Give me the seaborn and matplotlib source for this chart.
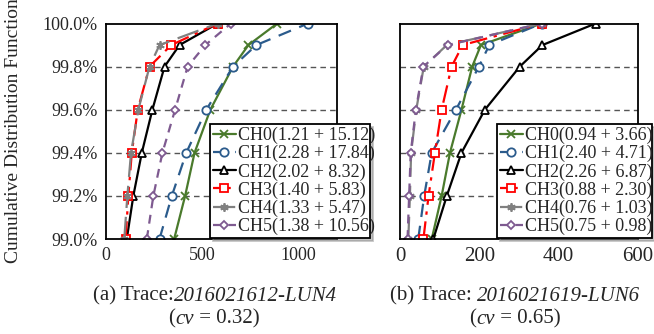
import matplotlib
matplotlib.use("Agg")
import matplotlib.pyplot as plt
import seaborn as sns
import pandas as pd
from matplotlib.lines import Line2D
from matplotlib.offsetbox import TextArea, HPacker, AnchoredOffsetbox

sns.set_theme(style="white")
plt.rcParams["font.family"] = ["Liberation Serif", "DejaVu Serif"]
plt.rcParams["mathtext.fontset"] = "stix"

# CDF levels (percent)
levels = [99.0, 99.2, 99.4, 99.6, 99.8, 99.9, 100.0]

channels = ["CH0", "CH1", "CH2", "CH3", "CH4", "CH5"]

# (a) Trace 2016021612-LUN4 latency values (us)
a_ch0 = [354, 411, 460, 542, 660, 740, 889]
a_ch1 = [278, 342, 417, 521, 660, 781, 1049]
a_ch2 = [108, 142, 186, 241, 304, 382, 580]
a_ch3 = [102, 116, 134, 165, 226, 339, 580]
a_ch4 = [95, 111, 130, 168, 226, 278, 580]
a_ch5 = [212, 246, 293, 359, 424, 516, 649]
a_labels = ["CH0(1.21 + 15.12)", "CH1(2.28 + 17.84)", "CH2(2.02 + 8.32)",
            "CH3(1.40 + 5.83)", "CH4(1.33 + 5.47)", "CH5(1.38 + 10.56)"]

# (b) Trace 2016021619-LUN6
b_ch0 = [80, 105, 126, 155, 182, 204, 357]
b_ch1 = [46, 61, 80, 141, 199, 225, 357]
b_ch2 = [84, 118, 155, 214, 302, 359, 493]
b_ch3 = [59, 72, 88, 105, 130, 158, 357]
b_ch4 = [21, 25, 28, 41, 60, 118, 357]
b_ch5 = [19, 23, 27, 40, 59, 120, 357]
b_labels = ["CH0(0.94 + 3.66)", "CH1(2.40 + 4.71)", "CH2(2.26 + 6.87)",
            "CH3(0.88 + 2.30)", "CH4(0.76 + 1.03)", "CH5(0.75 + 0.98)"]

styles = {
    "CH0": dict(color="#4A7A2C", marker="x", linestyle="-", mfc="none"),
    "CH1": dict(color="#2B5B8C", marker="o", linestyle=(0, (6, 4)), mfc="white"),
    "CH2": dict(color="black", marker="^", linestyle="-", mfc="white"),
    "CH3": dict(color="#FF0000", marker="s", linestyle=(0, (8, 3, 1.5, 3)), mfc="white"),
    "CH4": dict(color="#808080", marker=(6, 2, 0), linestyle=(0, (10, 4)), mfc="none"),
    "CH5": dict(color="#7E5A90", marker="D", linestyle=(0, (4, 3)), mfc="white"),
}

fig = plt.figure(figsize=(6.54, 3.34), dpi=100)
W, H = 654, 334
def axes_px(x0, x1, y0, y1):
    return fig.add_axes([x0 / W, 1 - y1 / H, (x1 - x0) / W, (y1 - y0) / H])

ax1 = axes_px(106, 337, 23.5, 239)
ax2 = axes_px(400, 638, 23.5, 239)

def draw(ax, series, labels, xmax, xticks, tickfs, legend_px):
    handles = []
    for ch, vals, lab in zip(channels, series, labels):
        st = styles[ch]
        df = pd.DataFrame({"x": vals, "y": levels})
        ms = 6 if st["marker"] != "D" else 4.5
        sns.lineplot(data=df, x="x", y="y", ax=ax, sort=False, estimator=None,
                     color=st["color"], linestyle=st["linestyle"], linewidth=1.6,
                     marker=st["marker"], markersize=ms,
                     markerfacecolor=st["mfc"], markeredgecolor=st["color"],
                     markeredgewidth=1.3, legend=False)
        handles.append(Line2D([], [], color=st["color"], linestyle=st["linestyle"],
                              linewidth=1.6, marker=st["marker"], markersize=ms,
                              markerfacecolor=st["mfc"], markeredgecolor=st["color"],
                              markeredgewidth=1.3, label=lab))
    ax.set_xlim(0, xmax)
    ax.set_ylim(99.0, 100.0)
    ax.set_xticks(xticks)
    ax.set_xticklabels([str(t) for t in xticks], fontsize=tickfs)
    ax.set_yticks([99.0, 99.2, 99.4, 99.6, 99.8, 100.0])
    for g in [99.2, 99.4, 99.6, 99.8]:
        ax.axhline(g, color="#555555", linestyle=(0, (4, 3)), linewidth=1.0, zorder=0)
    for s in ax.spines.values():
        s.set_color("black")
        s.set_linewidth(1.3)
    ax.tick_params(axis="both", length=0, pad=6)
    ax.set_xlabel("")
    ax.set_ylabel("")
    x0, y0, x1, y1 = legend_px
    leg = ax.legend(handles=handles, loc="lower left",
                    bbox_to_anchor=(x0 / W, 1 - y1 / H, (x1 - x0) / W, (y1 - y0) / H),
                    bbox_transform=fig.transFigure, mode="expand",
                    fontsize=13, frameon=True, fancybox=False, edgecolor="black",
                    framealpha=1, labelspacing=0.05, borderpad=0.15,
                    handlelength=1.3, handletextpad=0.1, borderaxespad=0,
                    shadow={"color": "0.55"})
    leg.get_frame().set_linewidth(1.3)
    leg.set_zorder(10)

draw(ax1, [a_ch0, a_ch1, a_ch2, a_ch3, a_ch4, a_ch5], a_labels, 1200,
     [0, 500, 1000], 13, (210, 121, 370, 238))
draw(ax2, [b_ch0, b_ch1, b_ch2, b_ch3, b_ch4, b_ch5], b_labels, 600,
     [0, 200, 400, 600], 15, (497, 121, 652, 238))

ax1.set_yticklabels(["99.0%", "99.2%", "99.4%", "99.6%", "99.8%", "100.0%"], fontsize=13)
ax2.set_yticklabels([])

fig.text(14 / W, 1 - 131 / H, "Cumulative Distribution Function", rotation=90,
         ha="center", va="center", fontsize=14)

def caption(cx, cy, parts):
    boxes = [TextArea(t, textprops=dict(fontsize=15, fontstyle=st, family="Liberation Serif"))
             for t, st in parts]
    pack = HPacker(children=boxes, align="baseline", pad=0, sep=0)
    ab = AnchoredOffsetbox(loc="center", child=pack, frameon=False,
                           bbox_to_anchor=(cx / W, 1 - cy / H),
                           bbox_transform=fig.transFigure, pad=0, borderpad=0)
    fig.add_artist(ab)

caption(215, 296, [("(a) Trace:", "normal"), ("2016021612-LUN4", "italic")])
caption(214, 319, [("(", "normal"), ("cv", "italic"), (" = 0.32)", "normal")])
caption(515, 296, [("(b) Trace: ", "normal"), ("2016021619-LUN6", "italic")])
caption(515, 319, [("(", "normal"), ("cv", "italic"), (" = 0.65)", "normal")])

fig.savefig("out.png", dpi=100)
